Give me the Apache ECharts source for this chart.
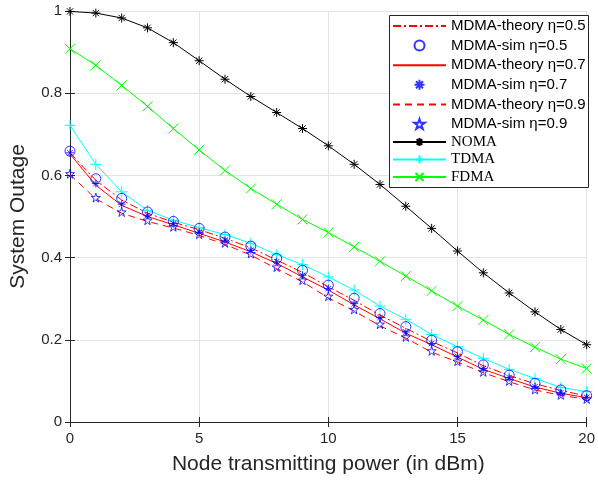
<!DOCTYPE html>
<html><head><meta charset="utf-8">
<script src="https://cdn.jsdelivr.net/npm/echarts@6/dist/echarts.min.js"></script>
<style>html,body{margin:0;padding:0;background:#fff}#c{width:598px;height:481px}</style>
</head><body><div id="c"></div>
<script>
var xs = [0,1,2,3,4,5,6,7,8,9,10,11,12,13,14,15,16,17,18,19,20];
var theory05 = [0.655,0.588,0.540,0.508,0.486,0.468,0.447,0.424,0.394,0.364,0.329,0.296,0.260,0.228,0.196,0.168,0.137,0.113,0.093,0.077,0.063];
var sim05    = [0.659,0.592,0.544,0.511,0.488,0.471,0.450,0.428,0.398,0.369,0.333,0.301,0.264,0.232,0.199,0.171,0.139,0.114,0.094,0.078,0.064];
var theory07 = [0.652,0.576,0.527,0.500,0.480,0.459,0.438,0.414,0.386,0.353,0.321,0.285,0.251,0.216,0.188,0.158,0.128,0.106,0.085,0.070,0.059];
var sim07    = [0.655,0.580,0.530,0.503,0.483,0.462,0.442,0.418,0.390,0.357,0.325,0.288,0.254,0.219,0.191,0.160,0.130,0.108,0.086,0.071,0.060];
var theory09 = [0.602,0.543,0.508,0.488,0.472,0.454,0.432,0.406,0.373,0.341,0.302,0.270,0.234,0.204,0.170,0.146,0.120,0.098,0.078,0.065,0.055];
var sim09    = [0.604,0.546,0.511,0.491,0.475,0.457,0.436,0.410,0.377,0.345,0.306,0.274,0.238,0.207,0.173,0.148,0.122,0.100,0.079,0.066,0.056];
var noma = [0.999,0.995,0.983,0.959,0.923,0.879,0.834,0.792,0.753,0.714,0.672,0.627,0.578,0.525,0.471,0.416,0.363,0.314,0.268,0.225,0.188];
var tdma = [0.722,0.627,0.560,0.515,0.491,0.473,0.456,0.435,0.407,0.383,0.353,0.321,0.282,0.250,0.213,0.183,0.155,0.128,0.106,0.084,0.074];
var fdma = [0.908,0.868,0.819,0.768,0.714,0.662,0.612,0.568,0.530,0.493,0.461,0.426,0.391,0.355,0.319,0.282,0.248,0.213,0.182,0.153,0.130];
var yTicks = [0,0.2,0.4,0.6,0.8,1];
var xTicks = [0,5,10,15,20];
var names = ['MDMA-theory η=0.5','MDMA-sim η=0.5','MDMA-theory η=0.7','MDMA-sim η=0.7','MDMA-theory η=0.9','MDMA-sim η=0.9','NOMA','TDMA','FDMA'];

function pairs(arr){ return xs.map(function(x,i){ return [x, arr[i]]; }); }
function starPath(){
  var p = [];
  for (var i=0;i<10;i++){
    var r = (i%2===0)?1:0.382;
    var a = -Math.PI/2 + i*Math.PI/5;
    p.push((i===0?'M':'L') + (r*Math.cos(a)).toFixed(3) + ',' + (r*Math.sin(a)).toFixed(3));
  }
  return 'path://' + p.join('') + 'Z';
}
var ASTER = 'path://M0,-1L0,1M-1,0L1,0M-0.7,-0.7L0.7,0.7M-0.7,0.7L0.7,-0.7';
var PLUS = 'path://M0,-1L0,1M-1,0L1,0';
var CROSS = 'path://M-1,-1L1,1M-1,1L1,-1';
var STAR = starPath();

var axisColor = '#262626';
function theorySeries(name, data, type){
  return {name:name, type:'line', data:pairs(data), showSymbol:false, symbol:'circle', z:2,
    lineStyle:{color:'#ff0000', width:1, type:type}, itemStyle:{color:'rgba(0,0,0,0)', borderWidth:0}};
}
function simSeries(name, data, symbol, size){
  return {name:name, type:'scatter', data:pairs(data), symbol:symbol, symbolSize:size, z:3,
    itemStyle:{color:'rgba(0,0,0,0)', borderColor:'#0000ff', borderWidth:1}};
}
function refSeries(name, data, color, symbol, size){
  return {name:name, type:'line', data:pairs(data), symbol:symbol, symbolSize:size, showAllSymbol:true, z:2,
    lineStyle:{color:color, width:1}, itemStyle:{color:color, borderColor:color, borderWidth:1}};
}

var chart = echarts.init(document.getElementById('c'), null, {renderer:'canvas'});
chart.setOption({
  animation:false,
  backgroundColor:'#fff',
  grid:{left:67, right:9, top:11, bottom:59, containLabel:false},
  xAxis:[{type:'value', min:0, max:20, interval:5, position:'bottom',
      name:'Node transmitting power (in dBm)', nameLocation:'middle', nameGap:32,
      nameTextStyle:{fontFamily:'Liberation Sans', fontSize:21, color:axisColor},
      axisLine:{lineStyle:{color:axisColor, width:1}},
      axisTick:{inside:true, length:5, lineStyle:{color:axisColor}},
      axisLabel:{fontFamily:'Liberation Sans', fontSize:15, color:axisColor, margin:9},
      splitLine:{show:true, lineStyle:{color:'#e3e3e3', width:1}}},
    {type:'value', min:0, max:20, interval:5, position:'top',
      axisLine:{lineStyle:{color:axisColor, width:1}},
      axisTick:{inside:true, length:5, lineStyle:{color:axisColor}},
      axisLabel:{show:false}, splitLine:{show:false}}],
  yAxis:[{type:'value', min:0, max:1, interval:0.2, position:'left',
      name:'System Outage', nameLocation:'middle', nameGap:41,
      nameTextStyle:{fontFamily:'Liberation Sans', fontSize:21, color:axisColor},
      axisLine:{show:true, lineStyle:{color:axisColor, width:1}},
      axisTick:{show:true, inside:true, length:5, lineStyle:{color:axisColor}},
      axisLabel:{fontFamily:'Liberation Sans', fontSize:15, color:axisColor, margin:8},
      splitLine:{show:true, lineStyle:{color:'#e3e3e3', width:1}}},
    {type:'value', min:0, max:1, interval:0.2, position:'right',
      axisLine:{show:true, lineStyle:{color:axisColor, width:1}},
      axisTick:{show:true, inside:true, length:5, lineStyle:{color:axisColor}},
      axisLabel:{show:false}, splitLine:{show:false}}],
  graphic:[{type:'rect', z:10, shape:{x:389.5, y:15.5, width:199, height:172},
      style:{fill:'#fff', stroke:axisColor, lineWidth:1}}],
  legend:[
    {data:names.slice(0,6), orient:'vertical', left:392, top:18.5, itemWidth:53, itemHeight:10, itemGap:4.6,
      z:20, textStyle:{fontFamily:'Liberation Sans', fontSize:15, color:'#000'}, padding:0, selectedMode:false},
    {data:names.slice(6), orient:'vertical', left:392, top:134.5, itemWidth:53, itemHeight:10, itemGap:2.5,
      z:20, textStyle:{fontFamily:'Liberation Serif', fontSize:15, color:'#000'}, padding:0, selectedMode:false}
  ],
  series:[
    theorySeries(names[0], theory05, [8,3,2,3]),
    simSeries(names[1], sim05, 'circle', 10),
    theorySeries(names[2], theory07, 'solid'),
    simSeries(names[3], sim07, ASTER, 8),
    theorySeries(names[4], theory09, [7,5]),
    simSeries(names[5], sim09, STAR, 9),
    refSeries(names[6], noma, '#000000', ASTER, 9),
    refSeries(names[7], tdma, '#00ffff', PLUS, 11),
    refSeries(names[8], fdma, '#00ff00', CROSS, 10)
  ]
});
</script></body></html>
